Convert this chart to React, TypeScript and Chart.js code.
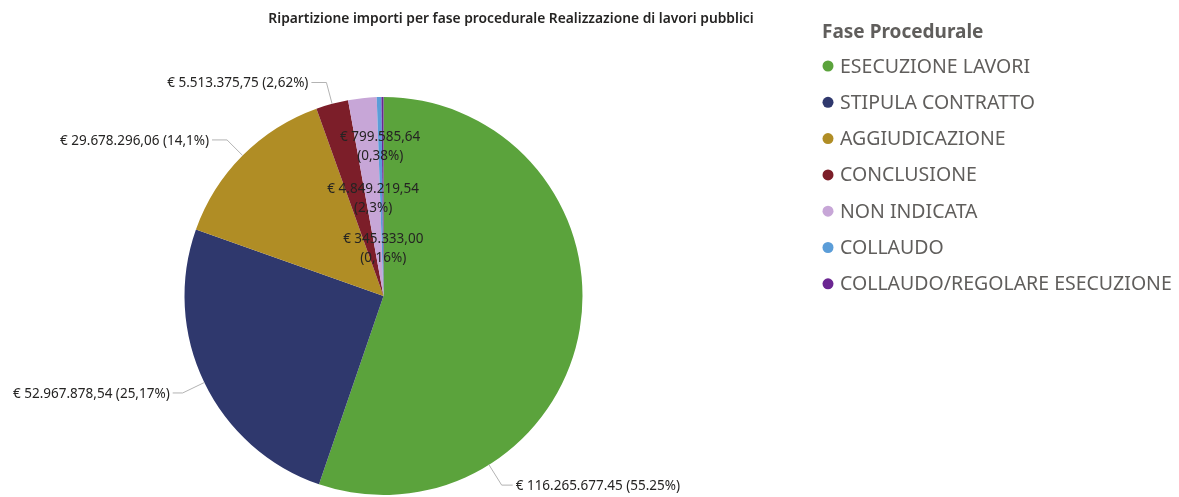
import React, { useEffect, useRef } from "react";
import { Chart, registerables } from "chart.js";

Chart.register(...registerables);

const chartTitle = "Ripartizione importi per fase procedurale Realizzazione di lavori pubblici";
const legendTitle = "Fase Procedurale";
const categories = [
  "ESECUZIONE LAVORI",
  "STIPULA CONTRATTO",
  "AGGIUDICAZIONE",
  "CONCLUSIONE",
  "NON INDICATA",
  "COLLAUDO",
  "COLLAUDO/REGOLARE ESECUZIONE",
];
const amounts = [116265677.45, 52967878.54, 29678296.06, 5513375.75, 4849219.54, 799585.64, 345333.0];
const amountLabels = [
  "€ 116.265.677.45",
  "€ 52.967.878,54",
  "€ 29.678.296,06",
  "€ 5.513.375,75",
  "€ 4.849.219,54",
  "€ 799.585,64",
  "€ 345.333,00",
];
const percentLabels = ["(55.25%)", "(25,17%)", "(14,1%)", "(2,62%)", "(2,3%)", "(0,38%)", "(0,16%)"];
const sliceColors = ["#5BA33C", "#2F386D", "#B08D25", "#7C1E29", "#C7A6D7", "#5B9DD8", "#6B2692"];

// label placement (style)
const placement = [
  { outside: true, angleDeg: 58, elbow: 24, run: 11, dir: 1 },
  { outside: true, elbow: 24, run: 10, dir: -1 },
  { outside: true, elbow: 22, run: 15, dir: -1 },
  { outside: true, elbow: 22, run: 15, dir: -1 },
  { outside: false, radius: 0.49 },
  { outside: false, radius: 0.75 },
  { outside: false, radius: 0.24 },
];

const LABEL_FONT = "13.5px 'Noto Sans', sans-serif";

const labelPlugin = {
  id: "pbiLabels",
  afterDatasetsDraw(chart: any) {
    const ctx = chart.ctx;
    const meta = chart.getDatasetMeta(0);
    ctx.save();
    ctx.font = LABEL_FONT;
    meta.data.forEach((arc: any, i: number) => {
      const p: any = placement[i];
      const { x, y, startAngle, endAngle, outerRadius } = arc.getProps(
        ["x", "y", "startAngle", "endAngle", "outerRadius"],
        true
      );
      const mid = (startAngle + endAngle) / 2;
      if (p.outside) {
        const ang = p.angleDeg !== undefined ? (p.angleDeg * Math.PI) / 180 : mid;
        const ax = x + Math.cos(ang) * outerRadius;
        const ay = y + Math.sin(ang) * outerRadius;
        const ex = x + Math.cos(ang) * (outerRadius + p.elbow);
        const ey = y + Math.sin(ang) * (outerRadius + p.elbow);
        const hx = ex + p.dir * p.run;
        ctx.strokeStyle = "#B3B3B3";
        ctx.lineWidth = 1;
        ctx.beginPath();
        ctx.moveTo(ax, ay);
        ctx.lineTo(ex, ey);
        ctx.lineTo(hx, ey);
        ctx.stroke();
        ctx.fillStyle = "#252423";
        ctx.textBaseline = "middle";
        ctx.textAlign = p.dir > 0 ? "left" : "right";
        ctx.fillText(amountLabels[i] + " " + percentLabels[i], hx + p.dir * 3, ey + 1);
      } else {
        const r = outerRadius * p.radius;
        const lx = x + Math.cos(mid) * r;
        const ly = y + Math.sin(mid) * r;
        ctx.fillStyle = "#252423";
        ctx.textBaseline = "middle";
        ctx.textAlign = "center";
        ctx.fillText(amountLabels[i], lx, ly - 9.5);
        ctx.fillText(percentLabels[i], lx, ly + 9.5);
      }
    });
    ctx.restore();
  },
  afterDraw(chart: any) {
    const ctx = chart.ctx;
    ctx.save();
    // title
    ctx.font = "600 13.8px 'Noto Sans', sans-serif";
    ctx.fillStyle = "#252423";
    ctx.textAlign = "center";
    ctx.textBaseline = "middle";
    ctx.fillText(chartTitle, 511, 19);
    // legend
    ctx.textAlign = "left";
    ctx.font = "bold 19px 'Noto Sans', sans-serif";
    ctx.fillStyle = "#605E5C";
    ctx.fillText(legendTitle, 822, 33);
    ctx.font = "19.5px 'Noto Sans', sans-serif";
    categories.forEach((c, i) => {
      const yy = 66 + i * 36.3;
      ctx.fillStyle = sliceColors[i];
      ctx.beginPath();
      ctx.arc(828, yy, 5.5, 0, Math.PI * 2);
      ctx.fill();
      ctx.fillStyle = "#605E5C";
      ctx.fillText(c, 840, yy + 1);
    });
    ctx.restore();
  },
};

export default function App() {
  const ref = useRef<HTMLCanvasElement | null>(null);
  useEffect(() => {
    document.body.style.margin = "0";
    const canvas = ref.current!;
    const chart = new Chart(canvas, {
      type: "pie",
      data: {
        labels: categories,
        datasets: [
          {
            data: amounts,
            backgroundColor: sliceColors,
            borderWidth: 0,
          },
        ],
      },
      options: {
        animation: false,
        responsive: false,
        maintainAspectRatio: false,
        layout: { padding: { left: 184, top: 97, right: 596, bottom: 2 } },
        plugins: {
          legend: { display: false },
          tooltip: { enabled: false },
          title: { display: false },
        },
      },
      plugins: [labelPlugin],
    });
    return () => chart.destroy();
  }, []);
  return (
    <div style={{ width: 1179, height: 497, background: "#fff" }}>
      <canvas ref={ref} width={1179} height={497} style={{ display: "block" }} />
    </div>
  );
}
